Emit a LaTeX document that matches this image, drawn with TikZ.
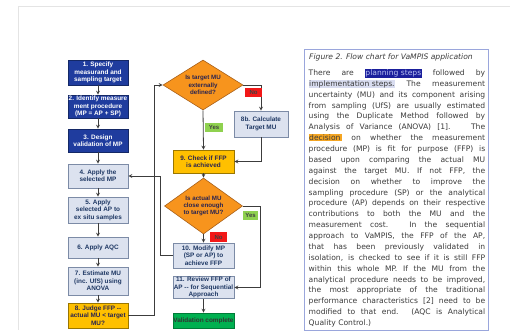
\documentclass[tikz,border=0pt]{standalone}
\usepackage{fontspec}
\usepackage{xcolor}
\usetikzlibrary{shapes.geometric}
\setmainfont{DejaVu Sans}
\newfontfamily\boxfont{Liberation Sans}

\definecolor{planblue}{HTML}{1F3C9E}
\definecolor{planborder}{HTML}{142866}
\definecolor{dofill}{HTML}{DCE2EF}
\definecolor{doborder}{HTML}{7C8BA6}
\definecolor{dotext}{HTML}{1F3864}
\definecolor{amber}{HTML}{FFC000}
\definecolor{amberborder}{HTML}{9A7600}
\definecolor{ambertext}{HTML}{2A2450}
\definecolor{askorange}{HTML}{F7941D}
\definecolor{askborder}{HTML}{A8601A}
\definecolor{doneg}{HTML}{00B050}
\definecolor{nored}{HTML}{F21818}
\definecolor{yesgreen}{HTML}{8FD14F}
\definecolor{wire}{HTML}{3C3C3C}
\definecolor{noteframe}{HTML}{9AA6DC}
\definecolor{notetext}{HTML}{3A3A3A}
\definecolor{pagegray}{HTML}{E4E4E4}
\definecolor{hlnavy}{HTML}{1A1F9C}
\definecolor{hlnavytext}{HTML}{B9C2F2}
\definecolor{hlpale}{HTML}{D9DDF0}
\definecolor{hlorange}{HTML}{F5A623}

\newcommand{\markword}[2]{{\setlength{\fboxsep}{0.5pt}\colorbox{#1}{#2}}}
\newcommand{\wideline}[1]{\makebox[50pt][c]{#1}}

\begin{document}
\begin{tikzpicture}[x=1pt,y=-1pt,->,>=stealth,
                    main node/.style={rectangle,draw,line width=0.6pt,minimum width=60pt,inner sep=0.5pt,align=center,
                                      font=\boxfont\bfseries\fontsize{6.4}{7.4}\selectfont},
                    plan node/.style={main node,fill=planblue,draw=planborder,text=white},
                    do node/.style={main node,fill=dofill,draw=doborder,text=dotext},
                    judge node/.style={main node,fill=amber,draw=amberborder,text=ambertext},
                    ask node/.style={diamond,draw=askborder,fill=askorange,text=ambertext,line width=0.6pt,
                                     inner sep=0pt,aspect=1.6,align=center,font=\boxfont\bfseries\fontsize{6.2}{7.2}\selectfont},
                    tag/.style={rectangle,inner sep=0pt,minimum width=17pt,minimum height=9pt,
                                font=\boxfont\bfseries\fontsize{6}{6}\selectfont},
                    wire line/.style={draw=wire,line width=0.8pt}]

\useasboundingbox (0,0) rectangle (510,330);

%PAGE edge
 \draw[-,pagegray,line width=0.6pt] (18,330)--(18,6)--(510,6);

%LEFT column: planning and implementation steps

 \node[plan node,minimum height=25pt] (Step1) at (98,72.5) {1. Specify\\measurand and\\sampling target};
 \node[plan node,minimum height=23pt] (Step2) at (98,106.5) {\wideline{2. Identify measure}\\ment procedure\\(MP = AP + SP)};
 \node[plan node,minimum height=23pt] (Step3) at (98,140.5) {3. Design\\validation of MP};
 \node[do node,minimum height=24pt] (Step4) at (98,176) {4. Apply the\\selected MP};
 \node[do node,minimum height=26pt] (Step5) at (98,210) {5. Apply\\selected AP to\\ex situ samples};
 \node[do node,minimum height=21pt] (Step6) at (98,247.5) {6. Apply AQC};
 \node[do node,minimum height=28pt] (Step7) at (98,281) {7. Estimate MU\\(inc. UfS) using\\ANOVA};
 \node[judge node,minimum height=25pt] (Step8) at (98,315.5) {8. Judge FFP --\\\wideline{actual MU < target}\\MU?};

 \foreach \a/\b in {1/2,2/3,3/4,4/5,5/6,6/7,7/8}
  \draw[wire line] (Step\a) -- (Step\b);

%RIGHT column: decisions

 \node[ask node,minimum width=80pt,minimum height=50pt] (AskTarget) at (203,85) {Is target MU\\externally\\defined?};
 \node[do node,minimum width=54pt,minimum height=26pt] (Step8b) at (261,124) {8b. Calculate\\Target MU};
 \node[judge node,minimum width=61pt,minimum height=23pt] (Step9) at (203.5,161.5) {9. Check if FFP\\is achieved};
 \node[ask node,minimum width=78pt,minimum height=56pt] (AskClose) at (203.5,206) {Is actual MU\\close enough\\to target MU?};
 \node[do node,minimum width=61pt,minimum height=25pt] (Step10) at (203.5,255.5) {10. Modify MP\\(SP or AP) to\\achieve FFP};
 \node[do node,minimum width=61pt,minimum height=21pt] (Step11) at (203.5,287.5) {11. Review FFP of\\\wideline{AP -- for Sequential}\\Approach};
 \node[main node,fill=doneg,draw=doneg!70!black,text=black!80,minimum width=61pt,minimum height=15pt] (Done) at (203.5,320.5) {\makebox[56pt][c]{Validation complete}};

 \draw[wire line] (Step8.east) -- ++(26,0) |- (AskTarget.west);
 \draw[wire line] (AskTarget.east) -| (Step8b.north);
 \draw[wire line] (Step8b.south) |- (Step9.east);
 \draw[wire line] (AskTarget.south) -- (Step9.north);
 \draw[wire line] (Step9.south) -- (AskClose.north);
 \draw[wire line] (AskClose.south) -- (Step10.north);
 \draw[wire line] (AskClose.east) -- ++(18,0) |- (Step11.east);
 \draw[wire line] (Step10.west) -- ++(-12,0) |- (Step4.east);
 \draw[wire line] (Step11.south) -- (Done.north);

%Yes and No tags

 \node[tag,fill=nored,text=black!75] (NoTarget) at (253.5,92.5) {No};
 \node[tag,fill=yesgreen,text=black!75,minimum width=18pt] (YesTarget) at (214,127.5) {Yes};
 \node[tag,fill=nored,text=black!75,minimum height=10pt] (NoClose) at (218.5,237) {No};
 \node[tag,fill=yesgreen,text=black!75,minimum width=15pt] (YesClose) at (250.5,215.5) {Yes};

%TEXT box

 \node[-,draw=noteframe,line width=0.8pt,anchor=north west,minimum width=184pt,minimum height=281pt,inner sep=0pt] (Note) at (304,49) {};
 \node[anchor=north west,inner sep=0pt,text=notetext,font=\itshape\fontsize{7.6}{9}\selectfont] (Caption) at (309,54) {Figure 2. Flow chart for VaMPIS application};
 \node[anchor=north west,inner sep=0pt,text width=176.5pt,align=justify,text=notetext,font=\fontsize{7.6}{10.87}\selectfont] (Body) at (308.5,69) {%
There are \markword{hlnavy}{\textcolor{hlnavytext}{planning steps}} followed by\linebreak
\markword{hlpale}{implementation steps.} The measurement\linebreak
uncertainty (MU) and its component arising\linebreak
from sampling (UfS) are usually estimated\linebreak
using the Duplicate Method followed by\linebreak
Analysis of Variance (ANOVA) [1]. \ The\linebreak
\markword{hlorange}{decision\,} on whether the measurement\linebreak
procedure (MP) is fit for purpose (FFP) is\linebreak
based upon comparing the actual MU\linebreak
against the target MU. If not FFP, the\linebreak
decision on whether to improve the\linebreak
sampling procedure (SP) or the analytical\linebreak
procedure (AP) depends on their respective\linebreak
contributions to both the MU and the\linebreak
measurement cost. In the sequential\linebreak
approach to VaMPIS, the FFP of the AP,\linebreak
that has been previously validated in\linebreak
isolation, is checked to see if it is still FFP\linebreak
within this whole MP. If the MU from the\linebreak
analytical procedure needs to be improved,\linebreak
the most appropriate of the traditional\linebreak
performance characteristics [2] need to be\linebreak
modified to that end. (AQC is Analytical\linebreak
Quality Control.)};

\end{tikzpicture}
\end{document}
